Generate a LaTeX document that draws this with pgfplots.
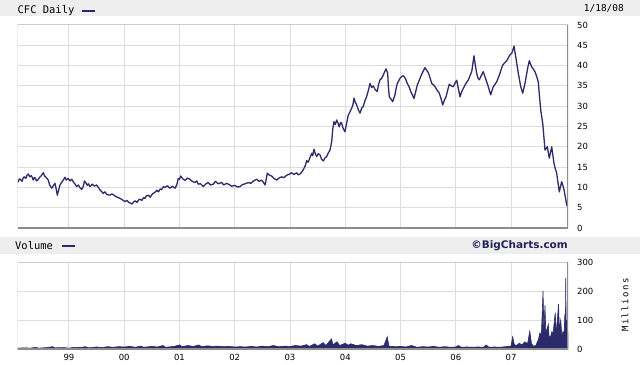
\documentclass[border=0pt]{standalone}
\usepackage{fontspec}
\setmainfont{DejaVu Sans}
\newfontfamily\monofont{DejaVu Sans Mono}
\usepackage{pgfplots}
\pgfplotsset{compat=1.18}
\definecolor{navy}{HTML}{2B2B6B}
\definecolor{band}{HTML}{EEEEEE}
\definecolor{gridc}{HTML}{DCDCDC}
\definecolor{frameL}{HTML}{CCCCCC}
\definecolor{frameD}{HTML}{8C8C8C}
\pgfplotsset{
  bigc/.style={
    scale only axis,
    xmin=1998.068, xmax=2008.032,
    axis line style={draw=none},
    major tick length=0pt,
    grid=major,
    major grid style={gridc, line width=1bp},
    xtick={1999,2000,2001,2002,2003,2004,2005,2006,2007},
    yticklabel pos=right,
    yticklabel style={anchor=west, inner sep=0pt, xshift=9bp, font=\fontsize{8.5}{9}\selectfont},
    /pgf/number format/assume math mode=true,
    clip=true,
  }
}
\begin{document}
\begin{tikzpicture}[x=1bp,y=1bp]
\useasboundingbox (0,0) rectangle (640,364);
\fill[white] (0,0) rectangle (640,364);
% header bands
\fill[band] (0,347.5) rectangle (640,364);
\fill[band] (0,110) rectangle (640,127);
\node[anchor=west, inner sep=0pt, font=\monofont\fontsize{10.5}{11}\selectfont] at (17.5,353.5) {CFC Daily};
\fill[navy] (82,351.5) rectangle (95,354);
\node[anchor=east, inner sep=0pt, font=\monofont\fontsize{9.5}{10}\selectfont] at (624,356) {1/18/08};
\node[anchor=west, inner sep=0pt, font=\monofont\fontsize{10.5}{11}\selectfont] at (15,118.5) {Volume};
\fill[navy] (62,117) rectangle (75,119.5);
\node[anchor=east, inner sep=0pt, text=navy!85!black, font=\bfseries\fontsize{10.5}{11}\selectfont] at (568,118.5) {©BigCharts.com};
\node[rotate=90, inner sep=0pt, font=\monofont\fontsize{9}{10}\selectfont] at (625,59) {M\,i\,l\,l\,i\,o\,n\,s};

\begin{axis}[bigc, at={(17.5bp,136bp)}, anchor=south west,
  width=550.5bp, height=203bp,
  ymin=0, ymax=50, ytick={0,5,...,50},
  xticklabels={}]
\addplot[navy, line width=1.3bp, line join=round] table {
1998.070 11.6
1998.082 11.4
1998.10 12.1
1998.12 12.0
1998.15 11.5
1998.17 12.3
1998.19 12.6
1998.22 12.2
1998.24 13.0
1998.263 13.3
1998.29 12.6
1998.32 12.9
1998.354 11.8
1998.37 12.4
1998.39 12.3
1998.41 11.6
1998.433 11.8
1998.47 12.5
1998.50 12.9
1998.535 13.6
1998.56 12.8
1998.59 12.4
1998.625 11.8
1998.65 10.6
1998.687 9.8
1998.72 10.5
1998.747 11.0
1998.77 9.5
1998.788 8.1
1998.81 9.2
1998.837 10.6
1998.87 11.3
1998.90 11.9
1998.928 12.5
1998.95 11.8
1998.987 12.2
1999.02 11.6
1999.05 12.0
1999.078 11.4
1999.11 10.8
1999.139 10.2
1999.17 10.6
1999.20 9.9
1999.230 9.5
1999.26 10.3
1999.28 11.6
1999.302 11.2
1999.33 10.5
1999.35 10.9
1999.380 10.2
1999.42 10.8
1999.46 10.3
1999.501 10.6
1999.53 10.0
1999.561 9.4
1999.59 9.0
1999.621 8.5
1999.65 8.9
1999.69 8.2
1999.742 8.1
1999.78 8.4
1999.833 7.9
1999.87 7.6
1999.923 7.3
1999.96 7.0
2000.014 6.5
2000.05 6.8
2000.08 6.3
2000.104 6.2
2000.14 5.9
2000.17 6.4
2000.195 6.7
2000.23 6.3
2000.26 6.9
2000.285 7.1
2000.32 6.8
2000.35 7.5
2000.376 7.3
2000.40 7.9
2000.435 8.1
2000.47 7.6
2000.51 8.4
2000.557 8.8
2000.59 9.3
2000.62 8.9
2000.65 9.6
2000.678 9.5
2000.71 10.2
2000.738 10.0
2000.78 10.4
2000.828 9.8
2000.87 10.3
2000.919 9.8
2000.95 10.6
2000.978 12.2
2001.00 12.0
2001.022 12.8
2001.06 12.1
2001.100 11.7
2001.14 12.3
2001.190 12.0
2001.23 11.5
2001.281 11.2
2001.31 11.6
2001.340 10.8
2001.38 10.9
2001.431 10.2
2001.47 10.8
2001.521 11.2
2001.56 10.6
2001.612 10.8
2001.65 11.5
2001.70 10.9
2001.764 11.2
2001.80 10.6
2001.854 11.0
2001.90 10.7
2001.945 10.3
2002.00 10.5
2002.05 10.1
2002.095 10.2
2002.14 10.7
2002.19 10.9
2002.245 11.2
2002.29 11.0
2002.34 11.6
2002.397 12.0
2002.44 11.5
2002.488 11.8
2002.52 11.2
2002.548 10.6
2002.57 12.0
2002.589 13.5
2002.63 13.0
2002.669 12.8
2002.71 12.2
2002.759 11.8
2002.80 12.3
2002.850 12.6
2002.89 12.4
2002.940 13.0
2002.98 13.2
2003.031 13.6
2003.07 13.2
2003.121 13.6
2003.15 13.1
2003.181 13.3
2003.22 13.9
2003.253 14.7
2003.28 15.5
2003.302 16.6
2003.33 16.2
2003.362 17.4
2003.393 18.4
2003.41 17.8
2003.434 19.4
2003.46 18.2
2003.483 17.6
2003.51 18.3
2003.543 18.0
2003.57 17.0
2003.603 16.5
2003.63 17.2
2003.664 17.6
2003.69 18.4
2003.724 19.2
2003.755 21.3
2003.775 24.5
2003.796 26.2
2003.82 25.5
2003.845 26.6
2003.87 25.8
2003.892 24.9
2003.915 26.0
2003.936 25.8
2003.96 24.6
2003.995 23.7
2004.02 25.5
2004.055 27.8
2004.085 28.6
2004.117 29.5
2004.14 30.4
2004.158 32.0
2004.18 31.0
2004.207 30.3
2004.235 29.2
2004.267 28.3
2004.30 29.6
2004.327 29.9
2004.355 31.3
2004.388 32.4
2004.42 34.0
2004.448 35.6
2004.48 34.6
2004.508 35.0
2004.545 34.0
2004.580 33.6
2004.60 35.2
2004.629 36.5
2004.66 36.9
2004.689 37.7
2004.71 38.4
2004.738 39.2
2004.768 38.1
2004.78 35.0
2004.797 32.3
2004.83 31.7
2004.859 31.1
2004.88 32.0
2004.900 32.8
2004.92 34.3
2004.942 35.6
2004.97 36.3
2004.991 36.9
2005.02 37.3
2005.051 37.5
2005.09 36.8
2005.123 35.6
2005.155 34.8
2005.185 33.6
2005.215 32.8
2005.244 31.9
2005.275 33.6
2005.304 35.2
2005.34 36.4
2005.384 37.9
2005.41 38.6
2005.443 39.5
2005.47 38.9
2005.503 38.3
2005.535 37.0
2005.565 35.6
2005.595 35.3
2005.624 34.8
2005.66 34.0
2005.702 33.2
2005.735 31.8
2005.764 30.3
2005.795 31.5
2005.824 32.3
2005.855 34.0
2005.883 35.4
2005.92 35.0
2005.956 34.8
2005.99 35.8
2006.017 36.4
2006.045 34.5
2006.077 32.3
2006.105 33.5
2006.137 34.4
2006.18 35.5
2006.228 36.5
2006.26 37.6
2006.289 38.5
2006.31 40.5
2006.330 42.4
2006.355 40.0
2006.379 38.1
2006.40 37.0
2006.426 36.5
2006.46 37.5
2006.498 38.5
2006.525 37.4
2006.548 36.5
2006.57 35.6
2006.589 34.8
2006.61 33.8
2006.633 32.8
2006.655 33.8
2006.680 34.8
2006.71 35.4
2006.741 36.0
2006.77 37.0
2006.801 38.1
2006.825 39.2
2006.850 40.1
2006.88 40.6
2006.910 41.0
2006.94 41.6
2006.969 42.4
2006.99 42.8
2007.013 43.0
2007.035 43.9
2007.054 44.8
2007.072 43.3
2007.090 41.8
2007.11 40.0
2007.132 38.1
2007.155 36.4
2007.176 34.8
2007.195 34.0
2007.212 33.2
2007.232 34.4
2007.253 35.6
2007.275 37.3
2007.295 38.9
2007.313 40.1
2007.331 41.2
2007.353 40.4
2007.375 39.7
2007.405 39.1
2007.434 38.5
2007.465 37.3
2007.494 36.0
2007.515 32.5
2007.538 29.1
2007.556 27.4
2007.574 25.8
2007.595 22.5
2007.615 19.2
2007.636 19.6
2007.657 20.0
2007.675 18.6
2007.693 17.2
2007.715 18.6
2007.737 20.0
2007.757 18.0
2007.778 15.9
2007.80 14.7
2007.827 13.5
2007.85 11.2
2007.874 8.9
2007.896 10.2
2007.918 11.4
2007.94 10.4
2007.959 9.4
2007.985 7.5
2008.008 5.7
2008.026 5.2
};
\draw[frameL, line width=1bp] (rel axis cs:0,0) -- (rel axis cs:0,1) -- (rel axis cs:1,1);
\draw[frameD, line width=2bp] (rel axis cs:0,0) -- (rel axis cs:1,0) -- (rel axis cs:1,1);
\end{axis}

\begin{axis}[bigc, at={(17.5bp,15bp)}, anchor=south west,
  width=550.5bp, height=87bp,
  ymin=0, ymax=300, ytick={0,100,200,300},
  xticklabels={99,00,01,02,03,04,05,06,07},
  xticklabel style={anchor=north, inner sep=0pt, yshift=-5.5bp, font=\fontsize{8.5}{9}\selectfont}]
\addplot[navy, fill=navy, line width=0.6bp] table {
1998.068 3
1998.2 4
1998.3 3
1998.4 6
1998.45 3
1998.6 5
1998.7 8
1998.75 4
1998.9 5
1999.0 3
1999.1 6
1999.2 5
1999.3 8
1999.35 4
1999.5 7
1999.6 5
1999.7 8
1999.8 6
1999.9 8
2000.0 7
2000.1 9
2000.2 6
2000.3 10
2000.35 6
2000.5 9
2000.6 7
2000.7 12
2000.75 6
2000.9 9
2001.0 14
2001.05 8
2001.15 12
2001.25 9
2001.35 14
2001.4 8
2001.5 11
2001.6 9
2001.7 10
2001.8 8
2001.9 9
2002.0 7
2002.1 8
2002.2 7
2002.3 9
2002.4 7
2002.5 10
2002.6 8
2002.7 12
2002.8 8
2002.9 10
2003.0 9
2003.1 12
2003.2 10
2003.3 15
2003.35 9
2003.45 18
2003.5 10
2003.6 22
2003.65 12
2003.75 35
2003.78 14
2003.85 25
2003.9 12
2004.0 20
2004.05 13
2004.1 18
2004.2 12
2004.3 15
2004.4 10
2004.5 12
2004.6 9
2004.7 12
2004.76 42
2004.79 10
2004.9 8
2005.0 9
2005.1 7
2005.2 12
2005.3 6
2005.4 8
2005.5 7
2005.6 9
2005.7 6
2005.8 8
2005.9 6
2006.0 7
2006.05 12
2006.1 6
2006.2 7
2006.3 6
2006.4 7
2006.5 6
2006.55 14
2006.6 6
2006.7 7
2006.8 6
2006.9 8
2007.0 10
2007.03 42
2007.06 15
2007.1 12
2007.15 20
2007.2 14
2007.25 25
2007.3 18
2007.34 62
2007.37 20
2007.4 10
2007.45 12
2007.5 35
2007.52 55
2007.55 50
2007.58 200
2007.595 60
2007.615 150
2007.63 55
2007.675 85
2007.69 40
2007.72 45
2007.74 60
2007.76 50
2007.80 125
2007.82 50
2007.86 155
2007.875 70
2007.90 100
2007.92 45
2007.94 60
2007.96 50
2007.975 120
2007.985 60
2007.99 245
2008.00 60
2008.01 100
2008.02 50
2008.032 55
} \closedcycle;
\draw[frameL, line width=1bp] (rel axis cs:0,0) -- (rel axis cs:0,1) -- (rel axis cs:1,1);
\draw[frameD, line width=2bp] (rel axis cs:0,0) -- (rel axis cs:1,0) -- (rel axis cs:1,1);
\end{axis}
\end{tikzpicture}
\end{document}
